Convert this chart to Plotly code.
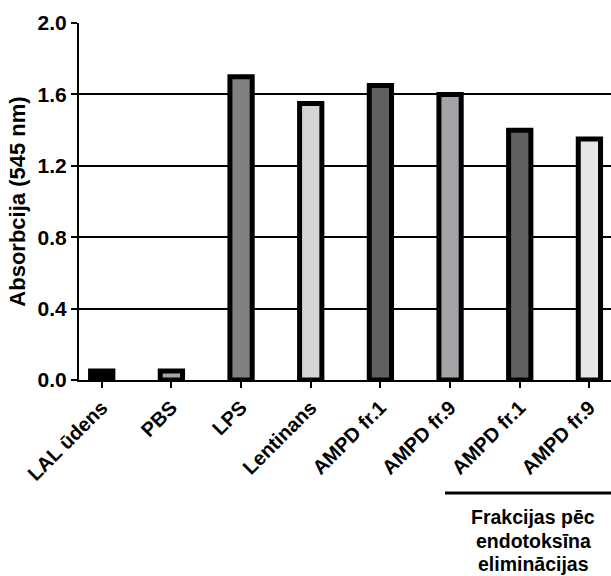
import plotly.graph_objects as go

# Sample groups and measured absorbance at 545 nm
labels = ["LAL ūdens", "PBS", "LPS", "Lentinans",
          "AMPD fr.1", "AMPD fr.9", "AMPD fr.1", "AMPD fr.9"]
absorbance = [0.05, 0.05, 1.70, 1.55, 1.65, 1.60, 1.40, 1.35]
fill_colors = ["#000000", "#a6a6a6", "#808080", "#d4d4d4",
               "#616161", "#a3a3a8", "#616161", "#e6e6e6"]
y_ticks = [0.0, 0.4, 0.8, 1.2, 1.6, 2.0]
group_note_lines = ["Frakcijas pēc", "endotoksīna", "eliminācijas"]

positions = list(range(len(labels)))
font_family = "Liberation Sans, Arial, sans-serif"

fig = go.Figure(
    go.Bar(
        x=positions,
        y=absorbance,
        width=0.32,
        marker=dict(color=fill_colors, line=dict(color="black", width=5)),
    )
)

fig.update_layout(
    width=611,
    height=576,
    margin=dict(l=79, r=0, t=23, b=196),
    plot_bgcolor="white",
    paper_bgcolor="white",
    showlegend=False,
    font=dict(family=font_family, color="black"),
)

fig.update_xaxes(
    range=[-0.326, 7.31],
    tickmode="array",
    tickvals=positions,
    ticktext=labels,
    tickangle=-45,
    tickfont=dict(size=20, weight="bold", family=font_family),
    ticks="outside",
    ticklen=6,
    tickwidth=2,
    tickcolor="black",
    showline=True,
    linecolor="black",
    linewidth=2,
    showgrid=False,
    zeroline=False,
)

fig.update_yaxes(
    range=[0, 2.0005],
    tickmode="array",
    tickvals=y_ticks,
    tickformat=".1f",
    tickfont=dict(size=21, weight="bold", family=font_family),
    ticks="outside",
    ticklen=6,
    tickwidth=2,
    tickcolor="black",
    showline=True,
    linecolor="black",
    linewidth=2,
    showgrid=True,
    gridcolor="black",
    gridwidth=2,
    zeroline=False,
    title=dict(text="Absorbcija (545 nm)",
               font=dict(size=22, weight="bold", family=font_family),
               standoff=6),
)

# Bracket line and caption for the fractions after endotoxin removal
fig.add_shape(type="line", xref="paper", yref="paper",
              x0=0.688, x1=1.0, y0=-0.3165, y1=-0.3165,
              line=dict(color="black", width=3))
plot_h = 576 - 23 - 196
for line_text, y_px in zip(group_note_lines, [517, 541, 564]):
    fig.add_annotation(xref="paper", yref="paper", x=0.854,
                       y=-(y_px - (576 - 196)) / plot_h,
                       xanchor="center", yanchor="middle", showarrow=False,
                       text=line_text, align="center",
                       font=dict(size=19.5, weight="bold", family=font_family))

fig.write_html("out.html")
